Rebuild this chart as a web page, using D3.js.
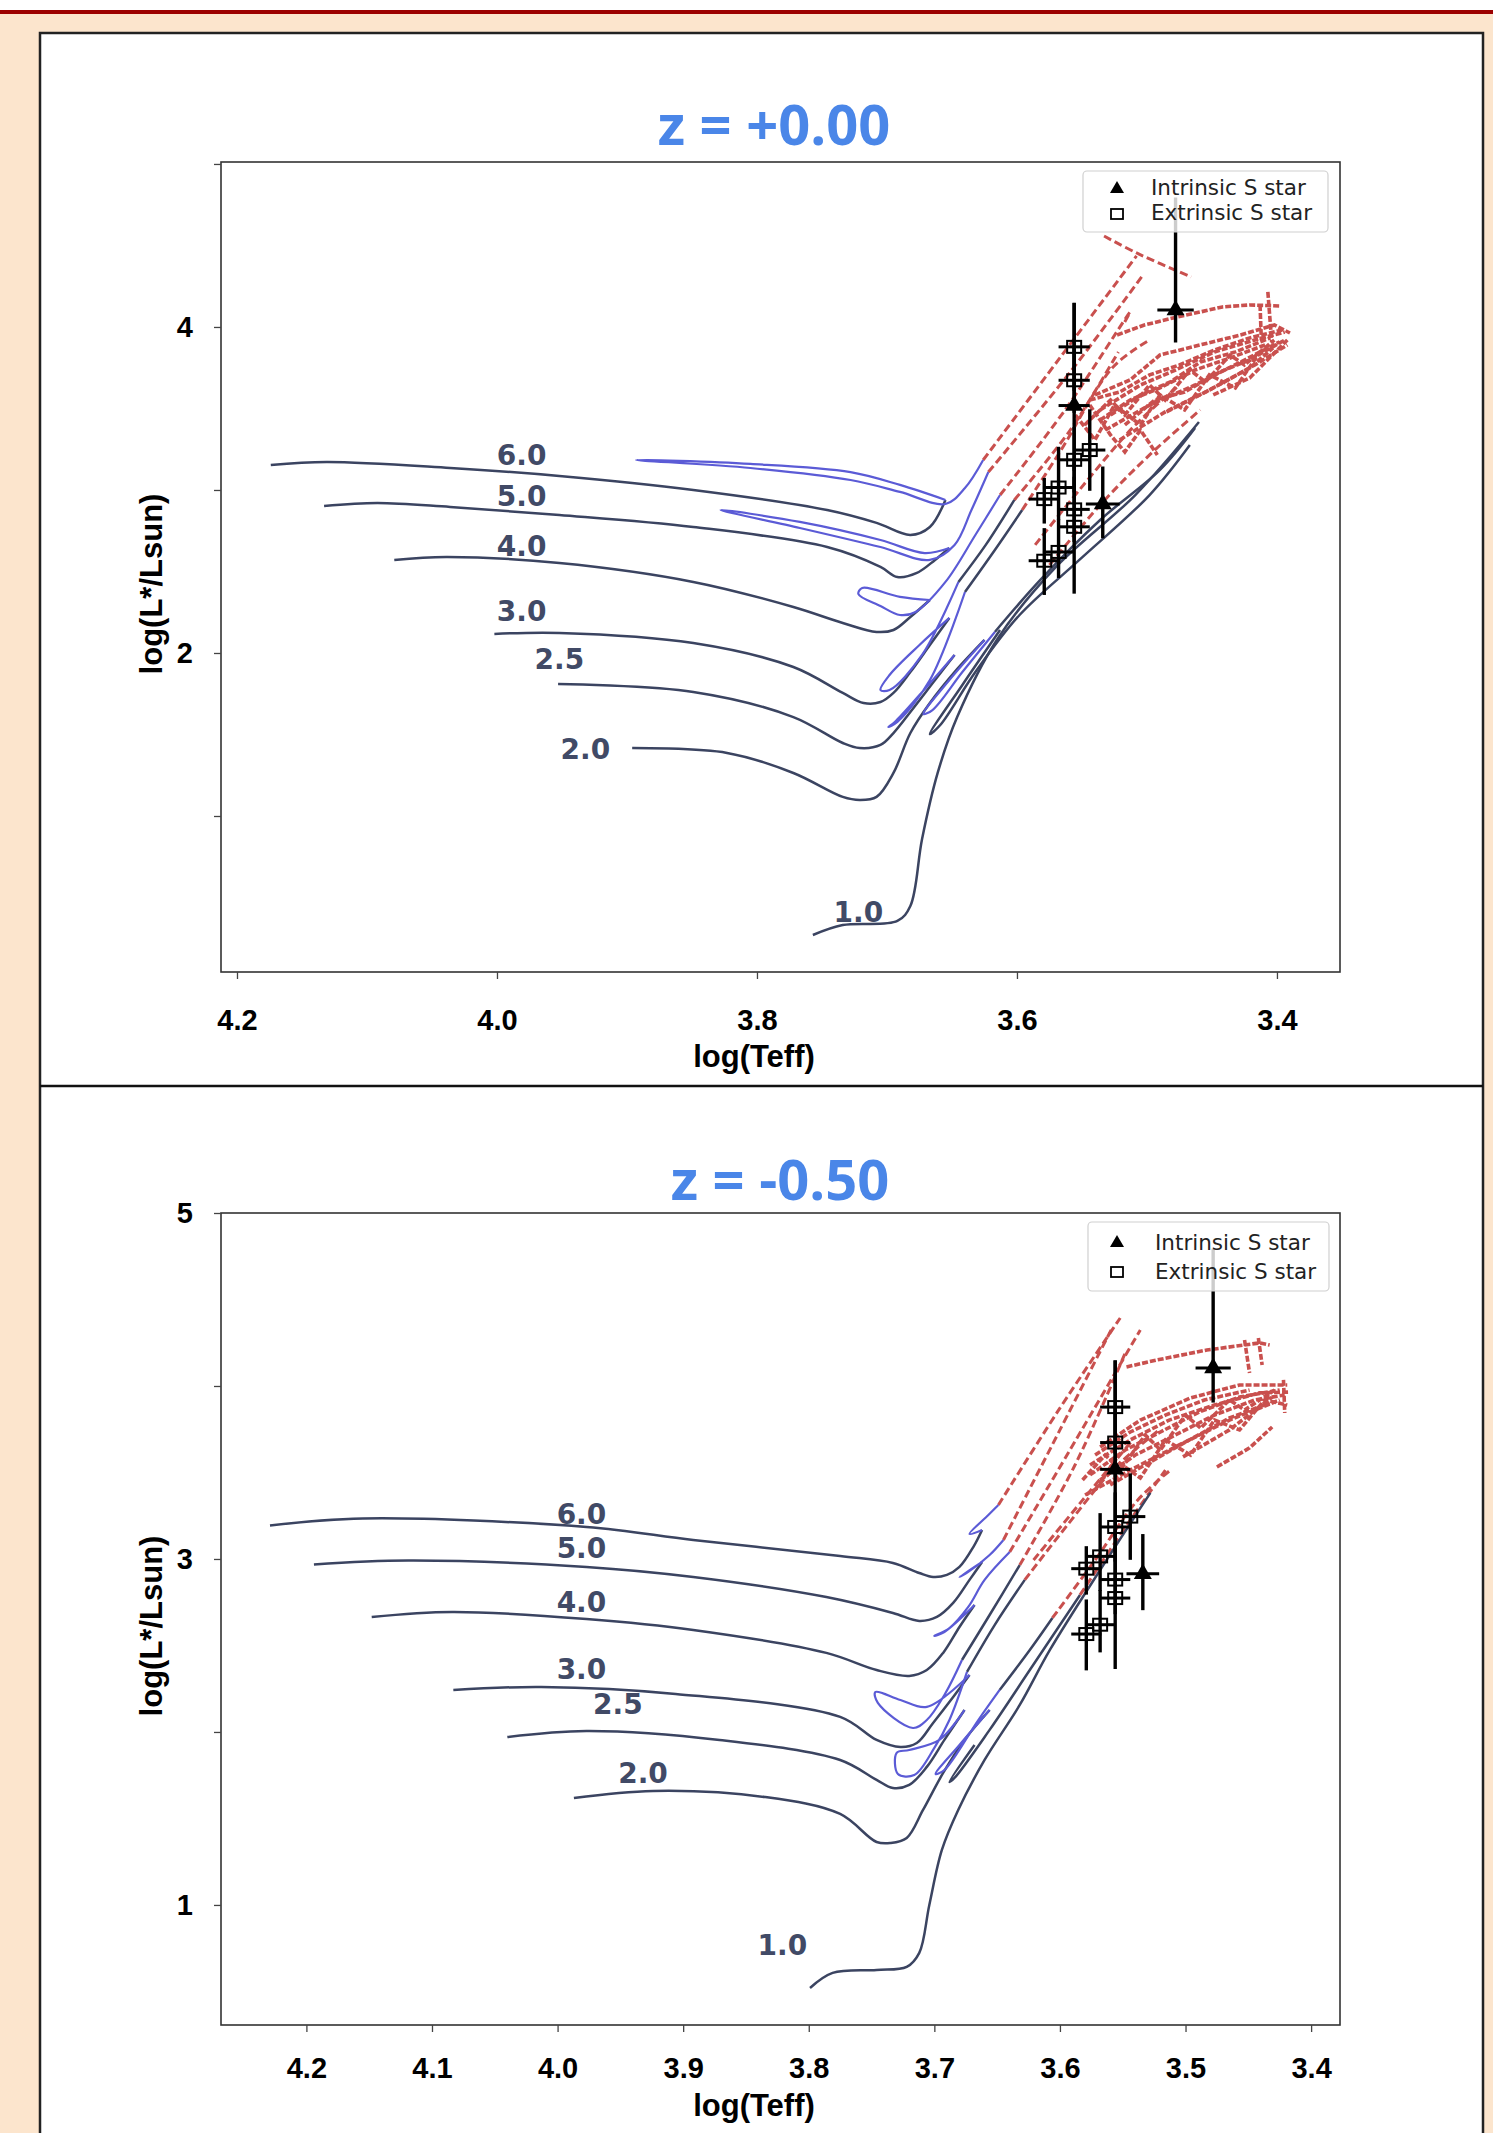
<!DOCTYPE html>
<html>
<head>
<meta charset="utf-8">
<script src="https://cdnjs.cloudflare.com/ajax/libs/d3/7.8.5/d3.min.js"></script>
<style>
  body { margin: 0; background: #fce5cd; }
  svg { display: block; }
</style>
</head>
<body>
<svg id="chart" width="1493" height="2133"></svg>
<script>
// ---------- gegevens: sterren (zelfde in beide panelen) ----------
const intrinsicT = [3.478, 3.556, 3.534];
const intrinsicL = [4.104, 3.518, 2.914];
const intrinsicErrT = [0.014, 0.012, 0.013];
const intrinsicErrLo = [0.20, 0.40, 0.21];
const intrinsicErrHi = [0.69, 0.63, 0.23];

const extrinsicT = [3.556, 3.556, 3.544, 3.556, 3.568, 3.579, 3.556, 3.556, 3.568, 3.579];
const extrinsicL = [3.878, 3.673, 3.245, 3.185, 3.015, 2.944, 2.881, 2.774, 2.620, 2.566];
const extrinsicErrT = [0.012, 0.012, 0.012, 0.012, 0.012, 0.012, 0.012, 0.012, 0.012, 0.012];
const extrinsicErrLo = [0.27, 0.20, 0.25, 0.20, 0.20, 0.15, 0.20, 0.41, 0.16, 0.21];
const extrinsicErrHi = [0.27, 0.20, 0.25, 0.20, 0.25, 0.13, 0.20, 0.40, 0.20, 0.20];

const massLabels = ["1.0", "2.0", "2.5", "3.0", "4.0", "5.0", "6.0"];
const topLabelT = [3.722, 3.932, 3.952, 3.981, 3.981, 3.981, 3.981];
const topLabelL = [0.408, 1.411, 1.957, 2.252, 2.656, 2.957, 3.209];
const botLabelT = [3.821, 3.932, 3.952, 3.981, 3.981, 3.981, 3.981];
const botLabelL = [0.763, 1.757, 2.156, 2.361, 2.751, 3.058, 3.257];

const topXTicks = [4.2, 4.0, 3.8, 3.6, 3.4];
const botXTicks = [4.2, 4.1, 4.0, 3.9, 3.8, 3.7, 3.6, 3.5, 3.4];
const yTicks = [1, 2, 3, 4, 5];
const topYLabelled = [2, 4];
const botYLabelled = [1, 3, 5];

// ---------- sporen z = +0.00 ----------
const topDark = [
  [[4.174,3.153],[4.131,3.172],[4.036,3.135],[3.952,3.086],[3.849,3.000],[3.746,2.877],[3.708,2.798],[3.682,2.724],[3.667,2.773],[3.655,2.939]],
  [[4.133,2.902],[4.092,2.920],[4.036,2.896],[3.952,2.847],[3.849,2.773],[3.746,2.650],[3.705,2.528],[3.692,2.466],[3.677,2.491],[3.663,2.571],[3.652,2.644]],
  [[4.079,2.571],[4.039,2.589],[3.952,2.552],[3.849,2.436],[3.772,2.282],[3.734,2.184],[3.708,2.129],[3.695,2.141],[3.682,2.221],[3.667,2.325]],
  [[4.002,2.117],[3.952,2.123],[3.849,2.061],[3.772,1.914],[3.734,1.755],[3.718,1.693],[3.705,1.699],[3.695,1.755],[3.682,1.883],[3.667,2.049],[3.652,2.215]],
  [[3.645,2.436],[3.624,2.663],[3.602,2.939]],
  [[3.953,1.810],[3.849,1.761],[3.772,1.607],[3.734,1.448],[3.721,1.417],[3.705,1.436],[3.695,1.509],[3.682,1.638],[3.663,1.834],[3.648,1.988]],
  [[3.640,2.374],[3.617,2.632],[3.596,2.877]],
  [[3.896,1.417],[3.823,1.387],[3.772,1.264],[3.734,1.117],[3.721,1.098],[3.708,1.117],[3.695,1.264],[3.682,1.509],[3.667,1.693],[3.648,1.883],[3.625,2.080]],
  [[3.617,2.129],[3.582,2.448],[3.536,2.816],[3.490,3.123],[3.463,3.380]],
  [[3.757,0.270],[3.734,0.331],[3.692,0.356],[3.682,0.448],[3.673,0.859],[3.661,1.264],[3.646,1.607],[3.615,2.086],[3.570,2.528],[3.509,2.969],[3.460,3.417]],
  [[3.613,2.141],[3.642,1.804],[3.667,1.503],[3.659,1.558],[3.632,1.883],[3.598,2.233],[3.552,2.571],[3.498,2.969],[3.467,3.276]]
];
const topBlue = [
  [[3.655,2.939],[3.690,3.031],[3.728,3.110],[3.805,3.160],[3.893,3.184],[3.805,3.135],[3.728,3.061],[3.690,2.988],[3.655,2.914],[3.640,3.012],[3.626,3.184]],
  [[3.652,2.644],[3.671,2.613],[3.705,2.693],[3.767,2.804],[3.828,2.877],[3.767,2.767],[3.705,2.650],[3.667,2.571],[3.648,2.663],[3.635,2.877],[3.622,3.110]],
  [[3.667,2.325],[3.690,2.344],[3.719,2.399],[3.722,2.362],[3.705,2.288],[3.690,2.233],[3.678,2.252],[3.655,2.436],[3.632,2.724],[3.613,2.969]],
  [[3.652,2.215],[3.675,2.049],[3.698,1.865],[3.705,1.773],[3.698,1.773],[3.673,1.988],[3.645,2.436]],
  [[3.648,1.988],[3.675,1.742],[3.694,1.577],[3.699,1.546],[3.692,1.577],[3.667,1.834],[3.640,2.374]],
  [[3.625,2.080],[3.652,1.834],[3.672,1.626],[3.665,1.650],[3.642,1.883],[3.617,2.129]]
];
const topRed = [
  [[3.626,3.184],[3.567,3.810],[3.508,4.436]],
  [[3.622,3.110],[3.559,3.724],[3.503,4.319]],
  [[3.613,2.969],[3.563,3.491],[3.513,4.092],[3.518,4.018]],
  [[3.602,2.939],[3.559,3.368],[3.522,3.847]],
  [[3.596,2.877],[3.567,3.233],[3.526,3.755],[3.498,3.920]],
  [[3.586,2.663],[3.552,3.000],[3.509,3.399],[3.475,3.644]],
  [[3.575,2.540],[3.536,2.908],[3.498,3.215],[3.459,3.491]],
  [[3.533,4.558],[3.508,4.454],[3.466,4.307]]
];
const topCluster = [
  [[3.540,3.583],[3.513,3.675],[3.490,3.828],[3.459,3.890],[3.428,3.951],[3.402,4.012],[3.390,3.963]],
  [[3.536,3.491],[3.505,3.644],[3.478,3.736],[3.448,3.847],[3.417,3.920],[3.394,3.969]],
  [[3.548,3.399],[3.528,3.552],[3.517,3.460],[3.498,3.644],[3.486,3.552],[3.467,3.736],[3.455,3.663],[3.436,3.828],[3.425,3.767],[3.402,3.920]],
  [[3.532,3.368],[3.498,3.521],[3.463,3.644],[3.428,3.785],[3.398,3.908]],
  [[3.521,3.307],[3.486,3.479],[3.452,3.613],[3.417,3.767],[3.392,3.890]],
  [[3.555,3.460],[3.540,3.307],[3.525,3.521],[3.505,3.399],[3.490,3.583],[3.471,3.491],[3.452,3.706],[3.432,3.626],[3.413,3.847]],
  [[3.523,3.951],[3.502,4.012],[3.480,4.055],[3.459,4.092],[3.442,4.123],[3.421,4.135],[3.398,4.129]],
  [[3.407,4.215],[3.404,3.908]],
  [[3.413,4.135],[3.412,3.920]],
  [[3.485,3.479],[3.452,3.613],[3.421,3.748],[3.403,3.871]],
  [[3.449,3.583],[3.421,3.687],[3.392,3.920]],
  [[3.544,3.521],[3.528,3.337],[3.517,3.233],[3.505,3.368],[3.492,3.215]],
  [[3.544,3.552],[3.521,3.601],[3.498,3.706],[3.475,3.767],[3.448,3.859],[3.421,3.933],[3.396,3.982]],
  [[3.536,3.429],[3.513,3.552],[3.490,3.626],[3.463,3.736],[3.436,3.810],[3.409,3.890]],
  [[3.528,3.460],[3.505,3.583],[3.482,3.663],[3.459,3.785],[3.432,3.847],[3.405,3.933]],
  [[3.517,3.399],[3.494,3.552],[3.471,3.601],[3.444,3.724],[3.421,3.798],[3.394,3.920]]
];

// ---------- sporen z = -0.50 ----------
const botDark = [
  [[4.229,3.194],[4.155,3.234],[3.977,3.185],[3.892,3.110],[3.775,3.017],[3.733,2.977],[3.712,2.919],[3.701,2.896],[3.690,2.908],[3.680,2.954],[3.669,3.069],[3.662,3.168]],
  [[4.194,2.968],[4.119,2.991],[3.977,2.954],[3.892,2.896],[3.786,2.780],[3.733,2.688],[3.712,2.642],[3.698,2.665],[3.685,2.746],[3.672,2.879],[3.662,2.983]],
  [[4.148,2.665],[4.084,2.694],[3.977,2.653],[3.892,2.590],[3.786,2.457],[3.746,2.358],[3.720,2.324],[3.706,2.358],[3.693,2.457],[3.680,2.607],[3.668,2.734]],
  [[4.083,2.243],[4.013,2.260],[3.906,2.220],[3.775,2.087],[3.746,1.954],[3.727,1.913],[3.714,1.936],[3.701,2.052],[3.685,2.202],[3.672,2.329]],
  [[3.678,2.416],[3.656,2.676],[3.632,2.965]],
  [[4.040,1.971],[3.977,2.006],[3.871,1.954],[3.775,1.838],[3.746,1.723],[3.733,1.676],[3.720,1.694],[3.706,1.798],[3.692,1.954],[3.676,2.127]],
  [[3.674,2.347],[3.652,2.618],[3.628,2.879]],
  [[3.987,1.618],[3.924,1.659],[3.835,1.624],[3.775,1.526],[3.746,1.364],[3.735,1.358],[3.722,1.387],[3.709,1.549],[3.693,1.763],[3.676,1.954],[3.656,2.127]],
  [[3.648,2.243],[3.624,2.474],[3.606,2.659]],
  [[3.799,0.520],[3.781,0.607],[3.746,0.624],[3.722,0.642],[3.712,0.723],[3.704,1.000],[3.694,1.318],[3.681,1.549],[3.660,1.838],[3.632,2.156],[3.608,2.474],[3.568,2.936],[3.528,3.382]],
  [[3.668,1.925],[3.688,1.711],[3.684,1.734],[3.656,2.012],[3.624,2.358],[3.584,2.792]]
];
const botBlue = [
  [[3.662,3.168],[3.672,3.145],[3.657,3.254],[3.649,3.312]],
  [[3.662,2.983],[3.680,2.896],[3.673,2.925],[3.656,3.023],[3.645,3.110]],
  [[3.668,2.734],[3.692,2.578],[3.700,2.555],[3.688,2.601],[3.673,2.723],[3.660,2.879],[3.640,3.040]],
  [[3.672,2.329],[3.706,2.145],[3.727,2.185],[3.747,2.231],[3.745,2.168],[3.717,2.023],[3.706,2.069],[3.692,2.214],[3.678,2.416]],
  [[3.676,2.127],[3.696,1.954],[3.720,1.896],[3.730,1.879],[3.729,1.757],[3.716,1.751],[3.700,1.908],[3.688,2.069],[3.674,2.347]],
  [[3.656,2.127],[3.680,1.925],[3.699,1.757],[3.692,1.780],[3.665,2.069],[3.648,2.243]]
];
const botRed = [
  [[3.649,3.312],[3.602,3.850],[3.552,4.393]],
  [[3.645,3.110],[3.600,3.746],[3.558,4.341]],
  [[3.640,3.040],[3.592,3.630],[3.536,4.324]],
  [[3.632,2.965],[3.588,3.543],[3.547,4.208]],
  [[3.628,2.879],[3.594,3.197],[3.558,3.514],[3.521,3.746]],
  [[3.606,2.659],[3.572,2.994],[3.538,3.341],[3.512,3.514]],
  [[3.584,2.792],[3.544,3.225],[3.516,3.514]],
  [[3.621,2.994],[3.582,3.340],[3.542,3.688]]
];
const botCluster = [
  [[3.568,3.647],[3.536,3.803],[3.496,3.931],[3.457,4.006],[3.419,4.006]],
  [[3.576,3.543],[3.544,3.688],[3.513,3.803],[3.477,3.890],[3.441,3.960],[3.417,3.965]],
  [[3.582,3.457],[3.564,3.601],[3.552,3.514],[3.532,3.717],[3.520,3.630],[3.500,3.832],[3.488,3.757],[3.465,3.919],[3.453,3.861],[3.429,3.977]],
  [[3.580,3.370],[3.544,3.514],[3.505,3.659],[3.465,3.803],[3.425,3.919]],
  [[3.572,3.399],[3.556,3.572],[3.536,3.468],[3.516,3.688],[3.496,3.601],[3.477,3.803],[3.457,3.746],[3.437,3.919],[3.419,3.890]],
  [[3.502,3.590],[3.465,3.746],[3.431,3.936]],
  [[3.475,3.532],[3.449,3.642],[3.431,3.763]],
  [[3.547,4.110],[3.523,4.150],[3.483,4.208],[3.441,4.249],[3.433,4.237]],
  [[3.453,4.266],[3.449,4.075]],
  [[3.442,4.277],[3.439,4.121]],
  [[3.422,4.035],[3.421,3.844]],
  [[3.576,3.486],[3.548,3.630],[3.520,3.734],[3.489,3.850],[3.457,3.936],[3.425,3.977]],
  [[3.568,3.457],[3.540,3.601],[3.508,3.717],[3.477,3.832],[3.445,3.919],[3.421,3.948]],
  [[3.572,3.601],[3.544,3.734],[3.516,3.832],[3.485,3.919],[3.449,3.977]],
  [[3.560,3.428],[3.528,3.561],[3.497,3.688],[3.465,3.815],[3.433,3.902]]
];

// kleuren
const darkColor = "#3b4461";
const blueColor = "#5b5bd6";
const redColor = "#c9504e";

const svg = d3.select("#chart");

// achtergrond van de dia
svg.append("rect").attr("x", 0).attr("y", 0).attr("width", 1493).attr("height", 10).attr("fill", "#fff");
svg.append("rect").attr("x", 0).attr("y", 10).attr("width", 1493).attr("height", 4).attr("fill", "#9c0000");
svg.append("rect").attr("x", 40).attr("y", 33).attr("width", 1443).attr("height", 2140)
    .attr("fill", "#fff").attr("stroke", "#222").attr("stroke-width", 2.5);
svg.append("line").attr("x1", 40).attr("x2", 1483).attr("y1", 1086).attr("y2", 1086)
    .attr("stroke", "#111").attr("stroke-width", 2.5);

/**
 * tekent een HR-diagram paneel
 */
function drawPanel(cfg) {
  var x = d3.scaleLinear().domain(cfg.xDomain).range([221, 1340]);
  var y = d3.scaleLinear().domain(cfg.yDomain).range([cfg.top, cfg.bottom]);
  var g = svg.append("g");

  // titel
  g.append("text")
      .attr("x", cfg.titleX).attr("y", cfg.titleY)
      .attr("text-anchor", "middle")
      .attr("font-family", "Open Sans, sans-serif")
      .attr("font-weight", "bold")
      .attr("font-size", 56)
      .attr("fill", "#4a86e8")
      .text(cfg.title);

  var clipId = "clip" + cfg.top;
  g.append("clipPath").attr("id", clipId)
    .append("rect").attr("x", 221).attr("y", cfg.top)
      .attr("width", 1119).attr("height", cfg.bottom - cfg.top);

  var plot = g.append("g").attr("clip-path", "url(#" + clipId + ")");

  var smooth = d3.line()
      .x(function(d) { return x(d[0]); })
      .y(function(d) { return y(d[1]); })
      .curve(d3.curveCatmullRom.alpha(0.5));
  var straight = d3.line()
      .x(function(d) { return x(d[0]); })
      .y(function(d) { return y(d[1]); });

  // rode AGB stukken (gestreept)
  plot.selectAll(".cluster").data(cfg.cluster).enter().append("path")
      .attr("d", straight)
      .attr("fill", "none").attr("stroke", redColor)
      .attr("stroke-width", 3.6).attr("stroke-dasharray", "6,2");
  plot.selectAll(".red").data(cfg.red).enter().append("path")
      .attr("d", smooth)
      .attr("fill", "none").attr("stroke", redColor)
      .attr("stroke-width", 3).attr("stroke-dasharray", "8,4");

  // donkere sporen
  plot.selectAll(".dark").data(cfg.dark).enter().append("path")
      .attr("d", smooth)
      .attr("fill", "none").attr("stroke", darkColor)
      .attr("stroke-width", 2.5);

  // blauwe lussen
  plot.selectAll(".blue").data(cfg.blue).enter().append("path")
      .attr("d", smooth)
      .attr("fill", "none").attr("stroke", blueColor)
      .attr("stroke-width", 2.2);

  // massa labels
  g.selectAll(".mlabel").data(massLabels).enter().append("text")
      .attr("x", function(d, i) { return x(cfg.labelT[i]); })
      .attr("y", function(d, i) { return y(cfg.labelL[i]); })
      .attr("text-anchor", "middle")
      .attr("dominant-baseline", "central")
      .attr("font-family", "DejaVu Sans, sans-serif")
      .attr("font-weight", "bold")
      .attr("font-size", 28)
      .attr("fill", "#414a66")
      .text(function(d) { return d; });

  // foutbalken
  var bars = plot.append("g").attr("stroke", "#000");
  function errorBars(T, L, eT, eLo, eHi) {
    T.forEach(function(t, i) {
      bars.append("line")
          .attr("x1", x(t)).attr("x2", x(t))
          .attr("y1", y(L[i] - eLo[i])).attr("y2", y(L[i] + eHi[i]))
          .attr("stroke-width", 3.4);
      bars.append("line")
          .attr("x1", x(t - eT[i])).attr("x2", x(t + eT[i]))
          .attr("y1", y(L[i])).attr("y2", y(L[i]))
          .attr("stroke-width", 3);
    });
  }
  errorBars(extrinsicT, extrinsicL, extrinsicErrT, extrinsicErrLo, extrinsicErrHi);
  errorBars(intrinsicT, intrinsicL, intrinsicErrT, intrinsicErrLo, intrinsicErrHi);

  plot.selectAll(".sq").data(extrinsicT).enter().append("rect")
      .attr("x", function(d) { return x(d) - 7; })
      .attr("y", function(d, i) { return y(extrinsicL[i]) - 6; })
      .attr("width", 14).attr("height", 12)
      .attr("fill", "none").attr("stroke", "#000").attr("stroke-width", 2);

  plot.selectAll(".tri").data(intrinsicT).enter().append("path")
      .attr("d", d3.symbol().type(d3.symbolTriangle).size(140))
      .attr("transform", function(d, i) { return "translate(" + x(d) + "," + y(intrinsicL[i]) + ")"; })
      .attr("fill", "#000");

  // kader
  g.append("rect").attr("x", 221).attr("y", cfg.top)
      .attr("width", 1119).attr("height", cfg.bottom - cfg.top)
      .attr("fill", "none").attr("stroke", "#333").attr("stroke-width", 1.6);

  // assen
  var xAxis = g.append("g")
      .attr("transform", "translate(0," + cfg.bottom + ")")
      .call(d3.axisBottom(x).tickValues(cfg.xTicks).tickFormat(d3.format(".1f"))
        .tickSize(7).tickPadding(cfg.xPad));
  var yAxis = g.append("g")
      .attr("transform", "translate(221,0)")
      .call(d3.axisLeft(y).tickValues(yTicks)
        .tickFormat(function(d) { return cfg.yShown.indexOf(d) >= 0 ? d : ""; })
        .tickSize(7).tickPadding(21));
  [xAxis, yAxis].forEach(function(a) {
    a.select(".domain").remove();
    a.selectAll("line").attr("stroke", "#444").attr("stroke-width", 1.3);
    a.selectAll("text")
        .attr("font-family", "Liberation Sans, Arial, sans-serif")
        .attr("font-weight", "bold")
        .attr("font-size", 29)
        .attr("fill", "#000");
  });

  // as titels
  g.append("text")
      .attr("x", 754).attr("y", cfg.xLabelY)
      .attr("text-anchor", "middle")
      .attr("font-family", "Liberation Sans, Arial, sans-serif")
      .attr("font-weight", "bold").attr("font-size", 31)
      .text("log(Teff)");
  g.append("text")
      .attr("transform", "translate(162," + cfg.yLabelY + ") rotate(-90)")
      .attr("text-anchor", "middle")
      .attr("font-family", "Liberation Sans, Arial, sans-serif")
      .attr("font-weight", "bold").attr("font-size", 31)
      .text("log(L*/Lsun)");

  // legenda
  var lg = cfg.legend;
  g.append("rect")
      .attr("x", lg.x).attr("y", lg.y).attr("width", lg.w).attr("height", lg.h)
      .attr("rx", 4)
      .attr("fill", "#fff").attr("fill-opacity", 0.8)
      .attr("stroke", "#d0d0d0").attr("stroke-width", 1.2);
  g.append("path")
      .attr("d", d3.symbol().type(d3.symbolTriangle).size(85))
      .attr("transform", "translate(" + lg.markerX + "," + lg.rows[0] + ")")
      .attr("fill", "#000");
  g.append("rect")
      .attr("x", lg.markerX - 6).attr("y", lg.rows[1] - 5)
      .attr("width", 12).attr("height", 10)
      .attr("fill", "none").attr("stroke", "#000").attr("stroke-width", 1.8);
  ["Intrinsic S star", "Extrinsic S star"].forEach(function(t, i) {
    g.append("text")
        .attr("x", lg.textX).attr("y", lg.rows[i] + lg.dy)
        .attr("font-family", "DejaVu Sans, sans-serif")
        .attr("font-size", lg.fontSize)
        .attr("fill", "#222")
        .text(t);
  });
}

drawPanel({
  title: "z = +0.00", titleX: 774, titleY: 145,
  top: 162, bottom: 972,
  xDomain: [4.2123, 3.3515], yDomain: [5.012, 0.043],
  xTicks: topXTicks, yShown: topYLabelled, xPad: 30,
  xLabelY: 1067, yLabelY: 584,
  dark: topDark, blue: topBlue, red: topRed, cluster: topCluster,
  labelT: topLabelT, labelL: topLabelL,
  legend: { x: 1083, y: 171, w: 245, h: 61, rows: [189, 214], markerX: 1117, textX: 1151, fontSize: 21.5, dy: 6 }
});

drawPanel({
  title: "z = -0.50", titleX: 780, titleY: 1200,
  top: 1213, bottom: 2025,
  xDomain: [4.268, 3.377], yDomain: [5.0, 0.306],
  xTicks: botXTicks, yShown: botYLabelled, xPad: 25,
  xLabelY: 2116, yLabelY: 1626,
  dark: botDark, blue: botBlue, red: botRed, cluster: botCluster,
  labelT: botLabelT, labelL: botLabelL,
  legend: { x: 1088, y: 1222, w: 241, h: 69, rows: [1243, 1272], markerX: 1117, textX: 1155, fontSize: 21.5, dy: 7 }
});
</script>
</body>
</html>
